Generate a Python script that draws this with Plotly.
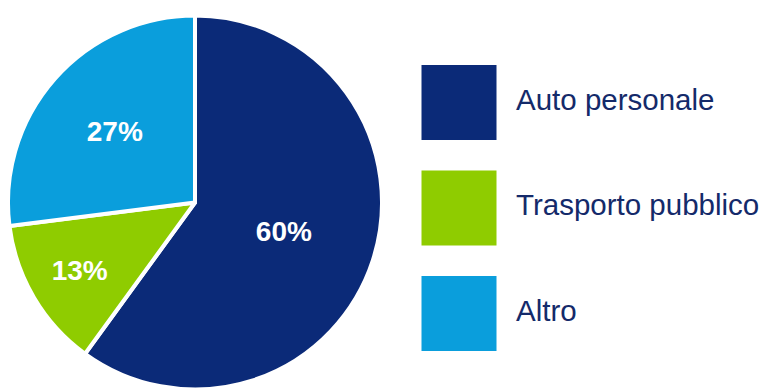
import plotly.graph_objects as go

categories = ["Auto personale", "Trasporto pubblico", "Altro"]
values = [60, 13, 27]
colors = ["#0B2A78", "#8FCC00", "#0A9EDC"]

# the page body adds an 8px margin, so the figure is sized to fit the window
W, H = 760, 384
FONT = "Liberation Sans, Arial, sans-serif"

fig = go.Figure()

fig.add_trace(go.Pie(
    labels=categories,
    values=values,
    marker=dict(colors=colors, line=dict(color="white", width=4)),
    sort=False,
    direction="clockwise",
    rotation=0,
    texttemplate="%{value}%",
    textposition="inside",
    insidetextorientation="horizontal",
    textfont=dict(family=FONT, size=28, color="white", weight="bold"),
    showlegend=False,
    hoverinfo="label+percent",
    domain=dict(x=[0, 374 / W], y=[1 / H, 378 / H]),
))

# custom legend with large squares
leg_y = [94.5 + i * 105.5 for i in range(len(categories))]
fig.add_trace(go.Scatter(
    x=[71] * len(categories), y=leg_y,
    mode="markers",
    marker=dict(symbol="square", size=75, color=colors, line=dict(width=0)),
    xaxis="x", yaxis="y", showlegend=False, hoverinfo="skip",
    cliponaxis=False,
))
fig.add_trace(go.Scatter(
    x=[128] * len(categories), y=leg_y,
    mode="text",
    text=categories,
    textposition="middle right",
    textfont=dict(family=FONT, size=29.5, color="#142A6A"),
    xaxis="x", yaxis="y", showlegend=False, hoverinfo="skip",
    cliponaxis=False,
))

fig.update_layout(
    width=W, height=H,
    margin=dict(l=0, r=0, t=0, b=0),
    paper_bgcolor="white", plot_bgcolor="rgba(0,0,0,0)",
    xaxis=dict(domain=[0.5, 1], range=[0, 380], visible=False, fixedrange=True),
    yaxis=dict(domain=[0, 1], range=[384, 0], visible=False, fixedrange=True),
)

fig.write_html("out.html")
